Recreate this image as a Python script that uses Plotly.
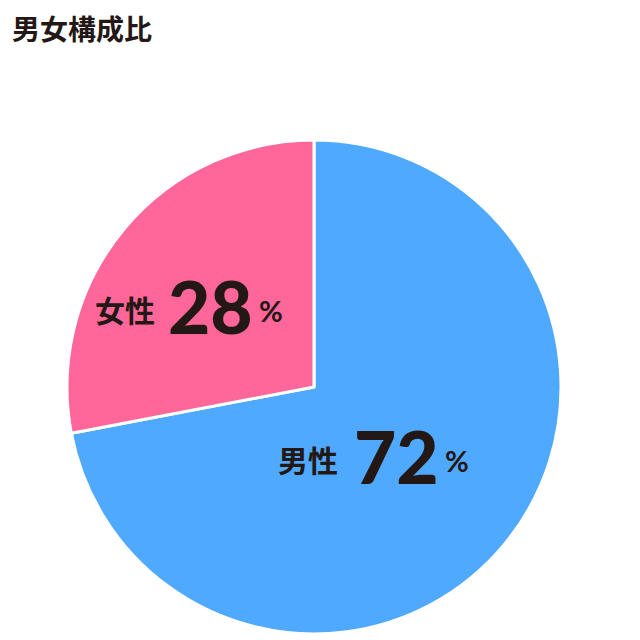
import plotly.graph_objects as go

# data
labels = ["男性", "女性"]
values = [72, 28]
colors = ["#4FAAFF", "#FF6699"]
title_text = "男女構成比"

TEXT_COLOR = "#231815"
W, H = 640, 640
M = dict(l=59, r=87, t=132, b=14)
PAGE_OFFSET = 8  # the page puts the figure 8px in from the corner

# label anchor points in pixels (male, female): (name right edge, number centre x, centre y)
label_px = [(340, 396, 460), (157, 210, 310)]


def to_paper(px, py):
    px -= PAGE_OFFSET
    py -= PAGE_OFFSET
    pw = W - M["l"] - M["r"]
    ph = H - M["t"] - M["b"]
    return (px - M["l"]) / pw, (H - M["b"] - py) / ph


fig = go.Figure()

fig.add_trace(go.Pie(
    labels=labels,
    values=values,
    sort=False,
    direction="clockwise",
    rotation=0,
    marker=dict(colors=colors, line=dict(color="white", width=3)),
    textinfo="none",
    hoverinfo="label+percent",
    showlegend=False,
))

# big in-slice labels: name, number, percent sign
for lab, val, (name_r, num_x, cy) in zip(labels, values, label_px):
    x, y = to_paper(name_r, cy - 1)
    fig.add_annotation(
        x=x, y=y, xref="paper", yref="paper", text=f"<b>{lab}</b>",
        showarrow=False, xanchor="right", yanchor="middle",
        font=dict(family="Noto Sans CJK JP", size=30, color=TEXT_COLOR),
    )
    x, y = to_paper(num_x, cy - 4)
    fig.add_annotation(
        x=x, y=y, xref="paper", yref="paper", text=str(val),
        showarrow=False, xanchor="center", yanchor="middle",
        font=dict(family="Lato", size=73, color=TEXT_COLOR, weight=900),
    )
    x, y = to_paper(num_x + 47, cy)
    fig.add_annotation(
        x=x, y=y, xref="paper", yref="paper", text="%",
        showarrow=False, xanchor="left", yanchor="middle",
        font=dict(family="Lato", size=29, color=TEXT_COLOR, weight=700),
    )

fig.update_layout(
    width=W, height=H,
    paper_bgcolor="white",
    plot_bgcolor="white",
    margin=M,
    title=dict(
        text=f"<b>{title_text}</b>",
        x=(12 - PAGE_OFFSET) / W, y=1 - (30 - PAGE_OFFSET) / H,
        xref="container", yref="container",
        xanchor="left", yanchor="middle",
        font=dict(family="Noto Sans CJK JP", size=28, color=TEXT_COLOR),
    ),
)

fig.write_html("out.html")
